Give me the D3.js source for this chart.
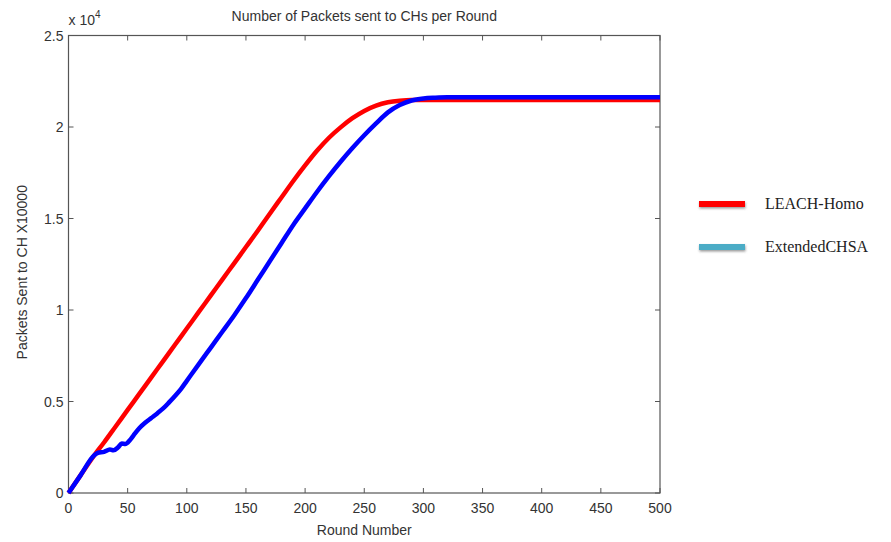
<!DOCTYPE html>
<html><head><meta charset="utf-8">
<script src="https://cdn.jsdelivr.net/npm/d3@7"></script>
<style>body{margin:0;background:#fff}svg{display:block}</style>
</head><body>
<svg id="c" width="891" height="542"></svg>
<script>
const seriesNames = ["LEACH-Homo", "ExtendedCHSA"];
const legendColors = ["#ff0000", "#4bacc6"];
const lineColors = ["#ff0000", "#0000ff"];
const xTicks = [0,50,100,150,200,250,300,350,400,450,500];
const yTicks = [0,5000,10000,15000,20000,25000];
const yTickLabels = ["0","0.5","1","1.5","2","2.5"];

const roundsRed = [0,10,22,30,40,50,60,70,80,90,100,110,120,130,140,150,160,170,180,190,200,210,220,230,240,250,260,270,280,290,300,350,400,450,500];
const valuesRed = [0,950,2077,2760,3650,4540,5430,6320,7210,8100,8990,9880,10770,11660,12550,13440,14330,15250,16150,17050,17900,18700,19400,19980,20480,20880,21170,21350,21440,21480,21480,21480,21480,21480,21480];

const roundsBlue = [0,10,22,25,30,35,38,42,45,48,52,55,60,65,70,75,80,85,90,95,100,110,120,130,140,150,160,170,180,190,200,210,220,230,240,250,260,270,280,290,300,310,320,350,400,450,500];
const valuesBlue = [0,950,2077,2200,2250,2380,2330,2500,2700,2680,2900,3150,3550,3850,4100,4350,4620,4950,5300,5680,6130,7030,7920,8810,9700,10650,11650,12650,13650,14650,15550,16450,17300,18100,18850,19550,20200,20800,21200,21450,21560,21600,21620,21620,21620,21620,21620];

const svg = d3.select("#c");
const L = 68.5, R = 660, T = 35.5, B = 493;
const x = d3.scaleLinear().domain([0,500]).range([L,R]);
const y = d3.scaleLinear().domain([0,25000]).range([B,T]);
const font = "'Liberation Sans', Arial, sans-serif";
const txt = "#333";

// box
svg.append("rect").attr("x",L).attr("y",T).attr("width",R-L).attr("height",B-T)
  .attr("fill","none").attr("stroke","#555").attr("stroke-width",1.2);

// ticks (inward, all four sides)
const tl = 5;
xTicks.forEach(v=>{
  svg.append("line").attr("x1",x(v)).attr("x2",x(v)).attr("y1",B).attr("y2",B-tl).attr("stroke","#555");
  svg.append("line").attr("x1",x(v)).attr("x2",x(v)).attr("y1",T).attr("y2",T+tl).attr("stroke","#555");
  svg.append("text").attr("x",x(v)).attr("y",B+20).attr("text-anchor","middle")
    .attr("font-family",font).attr("font-size",14).attr("fill",txt).text(v);
});
yTicks.forEach((v,i)=>{
  svg.append("line").attr("x1",L).attr("x2",L+tl).attr("y1",y(v)).attr("y2",y(v)).attr("stroke","#555");
  svg.append("line").attr("x1",R).attr("x2",R-tl).attr("y1",y(v)).attr("y2",y(v)).attr("stroke","#555");
  svg.append("text").attr("x",L-5).attr("y",y(v)+5).attr("text-anchor","end")
    .attr("font-family",font).attr("font-size",14).attr("fill",txt).text(yTickLabels[i]);
});

// exponent
const ex = svg.append("text").attr("x",L).attr("y",25).attr("font-family",font).attr("font-size",14).attr("fill",txt);
ex.append("tspan").text("x 10");
ex.append("tspan").attr("dy",-7).attr("font-size",10).text("4");

// title & labels
svg.append("text").attr("x",(L+R)/2).attr("y",21).attr("text-anchor","middle")
  .attr("font-family",font).attr("font-size",14).attr("fill",txt).text("Number of Packets sent to CHs per Round");
svg.append("text").attr("x",(L+R)/2).attr("y",535).attr("text-anchor","middle")
  .attr("font-family",font).attr("font-size",14).attr("fill",txt).text("Round Number");
svg.append("text").attr("transform","translate(27,"+((T+B)/2+8)+") rotate(-90)").attr("text-anchor","middle")
  .attr("font-family",font).attr("font-size",14).attr("fill",txt).text("Packets Sent to CH X10000");

// lines
const line = d3.line().x(d=>x(d[0])).y(d=>y(d[1])).curve(d3.curveMonotoneX);
const redData = roundsRed.map((r,i)=>[r,valuesRed[i]]);
const blueData = roundsBlue.map((r,i)=>[r,valuesBlue[i]]);
svg.append("path").datum(redData).attr("d",line).attr("fill","none")
  .attr("stroke",lineColors[0]).attr("stroke-width",4.5).attr("stroke-linejoin","round");
svg.append("path").datum(blueData).attr("d",line).attr("fill","none")
  .attr("stroke",lineColors[1]).attr("stroke-width",4.5).attr("stroke-linejoin","round");

// legend
const defs = svg.append("defs");
const f = defs.append("filter").attr("id","sh").attr("filterUnits","userSpaceOnUse")
  .attr("x",680).attr("y",180).attr("width",100).attr("height",100);
f.append("feDropShadow").attr("dx",0.5).attr("dy",1.5).attr("stdDeviation",1).attr("flood-color","#555").attr("flood-opacity",0.6);
const legY = [204, 247];
seriesNames.forEach((n,i)=>{
  svg.append("rect").attr("x",699).attr("y",legY[i]-3).attr("width",46).attr("height",6)
    .attr("fill",legendColors[i]).attr("filter","url(#sh)");
  svg.append("text").attr("x",765).attr("y",legY[i]+5).attr("font-family","'Liberation Serif', 'Times New Roman', serif")
    .attr("font-size",16).attr("fill","#222").text(n);
});
</script>
</body></html>
